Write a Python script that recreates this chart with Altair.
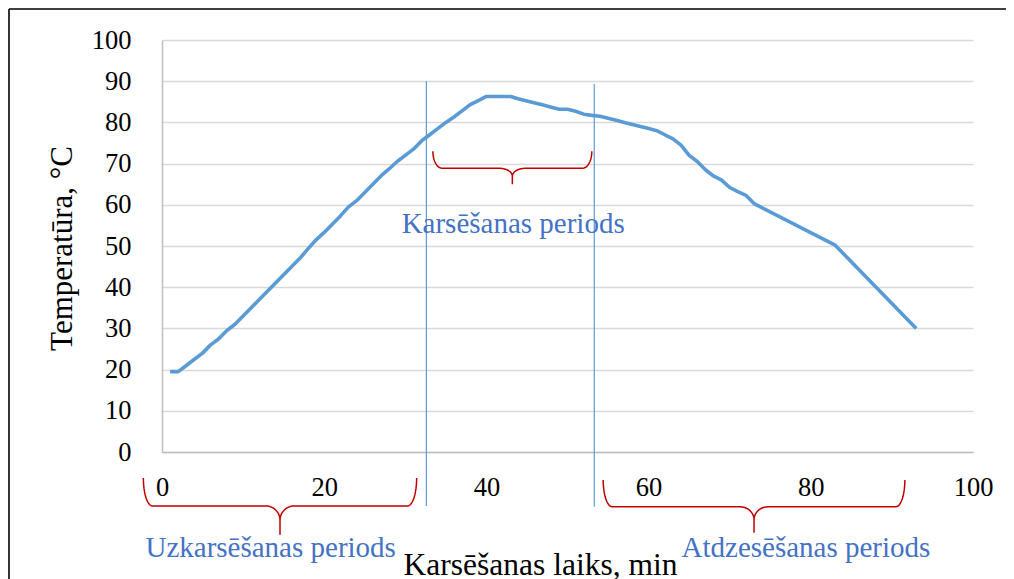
import math
import altair as alt
import pandas as pd

# ---- data ----
time_min = [1, 2, 3, 4, 5, 6, 7, 8, 9, 10, 11, 12, 13, 14, 15, 16, 17, 18, 19, 20,
            21, 22, 23, 24, 25, 26, 27, 28, 29, 30, 31, 32, 33, 34, 35, 36, 37, 38, 39, 40,
            41, 42, 43, 44, 45, 46, 47, 48, 49, 50, 51, 52, 53, 54, 55, 56, 57, 58, 59, 60,
            61, 62, 63, 64, 65, 66, 67, 68, 69, 70, 71, 72, 73, 83, 93]
temp_c = [19.5, 19.5, 21.0, 22.5, 24.0, 26.0, 27.5, 29.5, 31.0, 33.0,
          35.0, 37.0, 39.0, 41.0, 43.0, 45.0, 47.0, 49.3, 51.5, 53.3,
          55.3, 57.3, 59.5, 61.0, 63.0, 65.0, 67.0, 68.7, 70.5, 72.0,
          73.5, 75.5, 77.0, 78.5, 80.0, 81.3, 82.8, 84.3, 85.3, 86.3,
          86.3, 86.3, 86.3, 85.7, 85.2, 84.7, 84.2, 83.7, 83.2, 83.2,
          82.7, 82.0, 81.7, 81.5, 81.0, 80.5, 80.0, 79.5, 79.0, 78.5,
          78.0, 77.0, 76.0, 74.5, 72.0, 70.5, 68.5, 67.0, 66.0, 64.2,
          63.2, 62.3, 60.3, 50.2, 30.0]

x_ticks = [0, 20, 40, 60, 80, 100]
y_ticks = [0, 10, 20, 30, 40, 50, 60, 70, 80, 90, 100]

period_x = [32.6, 53.3]
period_top = [90.0, 89.3]
period_bottom = [-13.1, -13.3]

period_labels = ["Karsēšanas periods", "Uzkarsēšanas periods", "Atdzesēšanas periods"]
label_x = [43.3, 13.4, 79.4]
label_y = [53.1, -25.4, -25.4]

# braces: (x_left, x_right, x_mid, y_end, y_flat, y_tip)
braces = [
    (33.4, 53.0, 43.2, 73.0, 68.9, 65.0),
    (-2.3, 31.4, 14.55, -6.3, -13.1, -20.1),
    (54.4, 91.6, 73.0, -6.8, -13.3, -19.6),
]

W, H = 811, 412
PX, PY = W / 100.0, H / 100.0
FONT = "Liberation Serif"


def brace_half(xend, xm, ytop, yh, ytip, sign, n=12):
    rx = 9 / PX
    mx = 14 / PX
    ry = ytop - yh
    rm = 0.5 * (yh - ytip)
    pts = []
    cx = xend - sign * rx
    for i in range(n + 1):
        th = (math.pi / 2) * i / n
        pts.append((cx + sign * rx * math.cos(th), ytop - ry * math.sin(th)))
    cx2, cy2 = xm + sign * mx, yh - rm
    for i in range(n + 1):
        ph = (math.pi / 2) * (1 - i / n)
        pts.append((cx2 - sign * mx * math.cos(ph), cy2 + rm * math.sin(ph)))
    pts.append((xm, ytip))
    return pts


rows = []
for b, (x1, x2, xm, yt, yh, ytip) in enumerate(braces):
    left = brace_half(x1, xm, yt, yh, ytip, -1)
    right = brace_half(x2, xm, yt, yh, ytip, 1)[::-1][1:]
    for i, (px, py) in enumerate(left + right):
        rows.append({"b": b, "i": i, "x": px, "y": py})
brace_df = pd.DataFrame(rows)

line_df = pd.DataFrame({"t": time_min, "T": temp_c})
rule_df = pd.DataFrame({"x": period_x, "y": period_top, "y2": period_bottom})
text_df = pd.DataFrame({"x": label_x, "y": label_y, "label": period_labels})

xscale = alt.Scale(domain=[0, 100], nice=False, zero=False)
yscale = alt.Scale(domain=[0, 100], nice=False, zero=False)

one = pd.DataFrame({"a": [0]})
frame_top = alt.Chart(one).mark_rule(color="#000000", strokeWidth=1.6).encode(
    x=alt.value(-153), x2=alt.value(1200), y=alt.value(-31))
frame_left = alt.Chart(one).mark_rule(color="#000000", strokeWidth=1.6).encode(
    x=alt.value(-153), y=alt.value(-31), y2=alt.value(800))

line = alt.Chart(line_df).mark_line(color="#5B9BD5", strokeWidth=3.6, strokeJoin="round").encode(
    x=alt.X("t:Q", scale=xscale, axis=alt.Axis(
        values=x_ticks, grid=False, ticks=False, domainColor="#BFBFBF", domainWidth=1.5,
        labelFont=FONT, labelFontSize=26.5, labelColor="#000000", labelPadding=22,
        labelFlush=False, labelOverlap=False,
        title="Karsēšanas laiks, min", titleFont=FONT, titleFontSize=31.5,
        titleFontWeight="normal", titleColor="#000000",
        titleX=378, titleY=122, titleBaseline="alphabetic", titleAlign="center")),
    y=alt.Y("T:Q", scale=yscale, axis=alt.Axis(
        values=y_ticks, grid=True, gridColor="#D9D9D9", gridWidth=1.5, ticks=False,
        domainColor="#BFBFBF", domainWidth=1.5,
        labelFont=FONT, labelFontSize=26.5, labelColor="#000000", labelPadding=31,
        labelOverlap=False,
        title="Temperatūra, °C", titleFont=FONT, titleFontSize=31, titleFontWeight="normal",
        titleColor="#000000", titleAngle=270, titleX=-100, titleY=208,
        titleBaseline="middle", titleAlign="center")),
)

rules = alt.Chart(rule_df).mark_rule(color="#5B9BD5", strokeWidth=1.2).encode(
    x=alt.X("x:Q", scale=xscale), y=alt.Y("y:Q", scale=yscale), y2="y2:Q"
)

brace_lines = alt.Chart(brace_df).mark_line(color="#C00000", strokeWidth=1.5).encode(
    x=alt.X("x:Q", scale=xscale), y=alt.Y("y:Q", scale=yscale),
    detail="b:N", order="i:Q"
)

texts = alt.Chart(text_df).mark_text(
    font=FONT, fontSize=29, color="#4472C4", baseline="alphabetic", align="center"
).encode(x=alt.X("x:Q", scale=xscale), y=alt.Y("y:Q", scale=yscale), text="label:N")

chart = alt.layer(frame_top, frame_left, rules, line, brace_lines, texts).properties(
    width=W, height=H,
    padding={"left": 154, "top": 32, "right": 33, "bottom": 127},
    autosize=alt.AutoSizeParams(type="none"),
).configure_view(stroke=None)

chart.save("out.html", embed_options={"renderer": "svg", "actions": False})
